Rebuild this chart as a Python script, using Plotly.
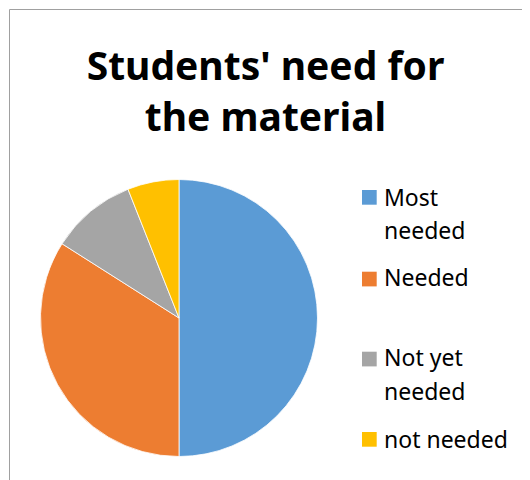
import plotly.graph_objects as go

categories = ["Most needed", "Needed", "Not yet needed", "not needed"]
values = [50, 34, 10, 6]
colors = ["#5B9BD5", "#ED7D31", "#A5A5A5", "#FFC000"]
legend_lines = [["Most", "needed"], ["Needed"], ["Not yet", "needed"], ["not needed"]]

W, H = 530, 480
OFF = 8  # page body margin

def px(x):
    return (x - OFF) / W

def py(y):
    return 1 - (y - OFF) / H

fig = go.Figure(go.Pie(
    labels=categories, values=values, sort=False, direction="clockwise",
    rotation=0, textinfo="none", showlegend=False,
    marker=dict(colors=colors, line=dict(color="white", width=0.8)),
    domain=dict(x=[px(40), px(318)], y=[py(456.5), py(179.5)]),
))

# legend squares and labels
sq_top = [190, 271.7, 351.7, 432]
line_base = [[205, 238], [285], [365, 399], [447]]
shapes = []
annotations = []
for i, cat in enumerate(categories):
    shapes.append(dict(type="rect", xref="paper", yref="paper",
                       x0=px(362), x1=px(376.7), y0=py(sq_top[i] + 14.7), y1=py(sq_top[i]),
                       fillcolor=colors[i], line=dict(width=0)))
    for txt, b in zip(legend_lines[i], line_base[i]):
        annotations.append(dict(text=txt, xref="paper", yref="paper", x=px(382), y=py(b - 8),
                                xanchor="left", yanchor="middle", showarrow=False,
                                font=dict(family="Noto Sans", size=23, color="#000000")))

# chart frame
shapes.append(dict(type="line", xref="paper", yref="paper", x0=px(9.5), x1=px(9.5),
                   y0=-0.1, y1=py(9.5), line=dict(color="#A0A0A0", width=1)))
shapes.append(dict(type="line", xref="paper", yref="paper", x0=px(9.5), x1=1.1,
                   y0=py(9.5), y1=py(9.5), line=dict(color="#A0A0A0", width=1)))

fig.update_layout(
    width=W, height=H,
    margin=dict(l=0, r=0, t=0, b=0),
    paper_bgcolor="white", plot_bgcolor="white",
    title=dict(text="<b>Students' need for<br>the material</b>", x=px(265.5), xanchor="center",
               y=py(80), yanchor="middle",
               font=dict(family="Noto Sans", size=39, color="#000000")),
    shapes=shapes, annotations=annotations,
)

fig.write_html("out.html")
